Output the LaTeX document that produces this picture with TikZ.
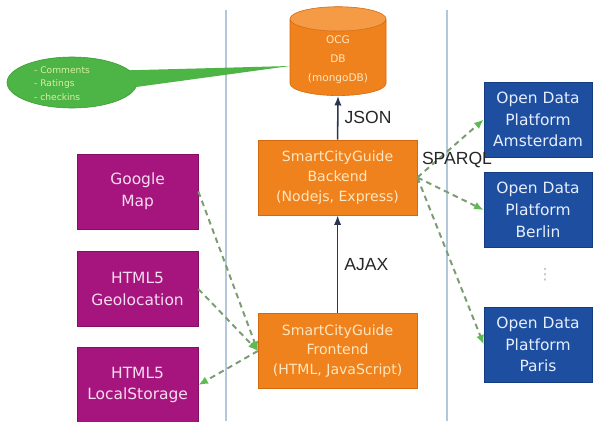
\documentclass[tikz,border=0pt]{standalone}
\usepackage{fontspec}
\setmainfont{DejaVu Sans}
\newfontfamily\lblfont{Liberation Sans}
\usetikzlibrary{shapes.geometric,arrows.meta}

\definecolor{cgorange}{HTML}{F0821E}
\definecolor{cgorangedark}{HTML}{D2690E}
\definecolor{cgorangetop}{HTML}{F59A45}
\definecolor{cgorangetext}{HTML}{FFE6BE}
\definecolor{cgmagenta}{HTML}{A6157E}
\definecolor{cgmagentadark}{HTML}{860F64}
\definecolor{cgmagentatext}{HTML}{F6DCEF}
\definecolor{cgblue}{HTML}{1D4E9F}
\definecolor{cgbluedark}{HTML}{143C80}
\definecolor{cgbluetext}{HTML}{E6EEFF}
\definecolor{cggreen}{HTML}{4DB446}
\definecolor{cggreendark}{HTML}{3C9A36}
\definecolor{cggreentext}{HTML}{D6F0A0}
\definecolor{cglink}{HTML}{7A9E72}
\definecolor{cglinktip}{HTML}{5DBB52}
\definecolor{cgarrow}{HTML}{2B3550}
\definecolor{cglabel}{HTML}{262626}
\definecolor{cgsep}{HTML}{B2C8DA}

\tikzset{
  tier/.style={draw=cgorangedark, fill=cgorange, text=cgorangetext,
    minimum width=3.975cm, minimum height=1.875cm, align=center,
    font=\fontsize{10}{14}\selectfont},
  api/.style={draw=cgmagentadark, fill=cgmagenta, text=cgmagentatext,
    minimum width=3.025cm, minimum height=1.875cm, align=center,
    font=\fontsize{11}{15.5}\selectfont},
  odp/.style={draw=cgbluedark, fill=cgblue, text=cgbluetext,
    minimum width=2.7cm, minimum height=1.875cm, align=center,
    font=\fontsize{11}{15.5}\selectfont},
  flow/.style={draw=cgarrow, line width=1.1pt, -{Latex[length=2.4mm,width=1.8mm]}},
  link/.style={draw=cglink, line width=1.4pt, dash pattern=on 4pt off 3pt,
    -{Latex[length=2.4mm,width=2mm,color=cglinktip]}},
  proto/.style={text=cglabel, font=\lblfont\fontsize{12.5}{14}\selectfont},
  sep/.style={draw=cgsep, line width=0.8pt}
}

\begin{document}
\begin{tikzpicture}
  \useasboundingbox (0,0) rectangle (14.9,10.525);
  % tier separators
  \coordinate (s1t) at (5.65,10.275);
  \coordinate (s1b) at (5.65,0);
  \coordinate (s2t) at (11.175,10.275);
  \coordinate (s2b) at (11.175,0);
  \draw [sep] (s1t) -- (s1b);
  \draw [sep] (s2t) -- (s2b);

  % middle tier
  \node [cylinder, shape border rotate=90, aspect=0.35, draw=cgorangedark,
         cylinder uses custom fill, cylinder body fill=cgorange,
         cylinder end fill=cgorangetop, minimum width=2.4cm, minimum height=1.8cm,
         text=cgorangetext, align=center, font=\fontsize{7.5}{13.5}\selectfont]
    (db) at (8.45,9.025) {OCG\\DB\\(mongoDB)};
  \node [tier] (be) at (8.44,6.0875) {SmartCityGuide\\Backend\\(Nodejs, Express)};
  \node [tier] (fe) at (8.44,1.75) {SmartCityGuide\\Frontend\\(HTML, JavaScript)};

  \draw [flow] (be.north) -- (db.south) node [proto, midway, right=1pt] {JSON};
  \draw [flow] (fe.north) -- (be.south) node [proto, midway, right=1pt] {AJAX};

  % callout
  \node [ellipse, draw=cggreendark, fill=cggreen, minimum width=3.25cm,
         minimum height=1.275cm] (cb) at (1.8,8.4625) {};
  \coordinate (tip) at (7.25,8.875);
  \fill [cggreen] (cb.12) -- (tip) -- (cb.-4) -- cycle;
  \node [align=left, text=cggreentext, font=\fontsize{6.5}{9.6}\selectfont]
    (cbtext) at (1.55,8.44) {- Comments\\- Ratings\\- checkins};

  % browser APIs
  \node [api] (gm) at (3.44,5.7375) {Google\\Map};
  \node [api] (geo) at (3.44,3.3) {HTML5\\Geolocation};
  \node [api] (ls) at (3.44,0.9) {HTML5\\LocalStorage};
  \draw [link] (gm.east) -- (fe.west);
  \draw [link] (geo.east) -- (fe.west);
  \draw [link] (fe.west) -- (ls.east);

  % open data platforms
  \node [odp] (ams) at (13.45,7.5375) {Open Data\\Platform\\Amsterdam};
  \node [odp] (ber) at (13.45,5.275) {Open Data\\Platform\\Berlin};
  \node [odp] (par) at (13.45,1.9125) {Open Data\\Platform\\Paris};
  \node [text=gray!55, font=\fontsize{11}{12}\selectfont] (more) at (13.625,3.65) {⋮};
  \draw [link] (be.east) -- (ams.west);
  \draw [link] (be.east) -- (ber.west);
  \draw [link] (be.east) -- (par.west);
  \node [proto] (sparql) at (11.425,6.525) {SPARQL};
\end{tikzpicture}
\end{document}
